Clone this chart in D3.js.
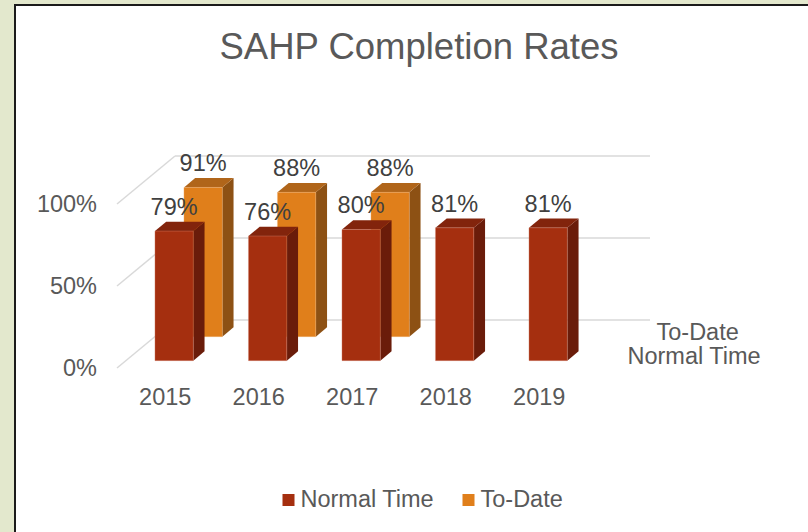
<!DOCTYPE html>
<html>
<head>
<meta charset="utf-8">
<script src="https://cdn.jsdelivr.net/npm/d3@7/dist/d3.min.js"></script>
<style>
  html, body { margin: 0; padding: 0; background: #e3e8cd; }
  svg { display: block; font-family: "Liberation Sans", Arial, sans-serif; }
</style>
</head>
<body>
<div id="chart"></div>
<script>
// chart values
const years = ['2015', '2016', '2017', '2018', '2019'];
const seriesNames = ['Normal Time', 'To-Date'];
const normalTime = [0.79, 0.76, 0.80, 0.81, 0.81];
const toDate = [0.91, 0.88, 0.88, null, null];
const yTicks = [0, 0.5, 1];

const width = 808;
const height = 532;

const colors = {
  'Normal Time': { front: '#a52f0f', top: '#82240c', side: '#6a1c0a', edge: '#d98c78' },
  'To-Date': { front: '#e07f1b', top: '#b0651a', side: '#8d5114', edge: '#f2b070' },
};

// oblique projection: depth goes up and to the right
const DX = 58;
const DY = -48;

const svg = d3.select('#chart').append('svg')
  .attr('width', width)
  .attr('height', height);

// chart area
svg.append('rect')
  .attr('x', 15).attr('y', 5)
  .attr('width', width + 10).attr('height', height + 10)
  .attr('fill', '#fff')
  .attr('stroke', '#1b1b1b')
  .attr('stroke-width', 2);

svg.append('text')
  .attr('x', 419).attr('y', 59)
  .attr('text-anchor', 'middle')
  .style('font-size', '36.5px')
  .style('fill', '#595959')
  .text('SAHP Completion Rates');

const x = d3.scaleBand()
  .domain(years)
  .range([117, 592])
  .paddingOuter(0.04)
  .align(0.2);

const y = d3.scaleLinear()
  .domain([0, 1])
  .range([368, 204]);

const z = d3.scalePoint()
  .domain(seriesNames)
  .range([0, 1])
  .padding(0.5);

const proj = (px, v, pz) => [px + pz * DX, y(v) + pz * DY];
const poly = pts => 'M' + pts.map(p => p.join(',')).join('L') + 'Z';

const [xMin, xMax] = x.range();

// back wall gridlines
svg.append('g').selectAll('line')
  .data(yTicks)
  .enter().append('line')
  .attr('x1', d => proj(xMin, d, 1)[0])
  .attr('y1', d => proj(xMin, d, 1)[1])
  .attr('x2', d => proj(xMax, d, 1)[0])
  .attr('y2', d => proj(xMax, d, 1)[1])
  .attr('stroke', '#d9d9d9')
  .attr('stroke-width', 1.5);

// side wall gridlines
svg.append('g').selectAll('line')
  .data(yTicks)
  .enter().append('line')
  .attr('x1', d => proj(xMin, d, 0)[0])
  .attr('y1', d => proj(xMin, d, 0)[1])
  .attr('x2', d => proj(xMin, d, 1)[0])
  .attr('y2', d => proj(xMin, d, 1)[1])
  .attr('stroke', '#d9d9d9')
  .attr('stroke-width', 1.5);

// y axis labels
svg.append('g').selectAll('text')
  .data(yTicks)
  .enter().append('text')
  .attr('x', xMin - 20)
  .attr('y', d => y(d))
  .attr('dy', '0.35em')
  .attr('text-anchor', 'end')
  .style('font-size', '23.5px')
  .style('fill', '#595959')
  .text(d3.format('.0%'));

// category labels
svg.append('g').selectAll('text')
  .data(years)
  .enter().append('text')
  .attr('x', d => x(d) + x.bandwidth() / 2)
  .attr('y', y(0) + 37)
  .attr('text-anchor', 'middle')
  .style('font-size', '23.5px')
  .style('fill', '#595959')
  .text(d => d);

// series (depth) labels
svg.append('g').selectAll('text')
  .data(seriesNames)
  .enter().append('text')
  .attr('x', d => proj(xMax, 0, z(d))[0] + 21)
  .attr('y', d => proj(xMax, 0, z(d))[1] + 8)
  .style('font-size', '23.5px')
  .style('fill', '#595959')
  .text(d => d);

// bars, back series first
const barW = x.bandwidth() * 0.41;
const barD = 0.194;
const series = [
  { name: 'To-Date', values: toDate },
  { name: 'Normal Time', values: normalTime },
];

const bars = [];
series.forEach(s => {
  s.values.forEach((v, i) => {
    if (v == null) return;
    const x0 = x(years[i]) + (x.bandwidth() - barW) / 2;
    const x1 = x0 + barW;
    const z0 = z(s.name) - barD / 2;
    const z1 = z(s.name) + barD / 2;
    bars.push({ name: s.name, v, x0, x1, z0, z1 });
  });
});

const barG = svg.append('g').selectAll('g')
  .data(bars)
  .enter().append('g');

barG.append('path')
  .attr('d', d => poly([proj(d.x1, 0, d.z0), proj(d.x1, 0, d.z1), proj(d.x1, d.v, d.z1), proj(d.x1, d.v, d.z0)]))
  .attr('fill', d => colors[d.name].side);

barG.append('path')
  .attr('d', d => poly([proj(d.x0, d.v, d.z0), proj(d.x1, d.v, d.z0), proj(d.x1, d.v, d.z1), proj(d.x0, d.v, d.z1)]))
  .attr('fill', d => colors[d.name].top);

barG.append('path')
  .attr('d', d => poly([proj(d.x0, 0, d.z0), proj(d.x1, 0, d.z0), proj(d.x1, d.v, d.z0), proj(d.x0, d.v, d.z0)]))
  .attr('fill', d => colors[d.name].front)
  .attr('stroke', d => colors[d.name].edge)
  .attr('stroke-width', 0.6)
  .attr('stroke-opacity', 0.6);

// data labels on top
svg.append('g').selectAll('text')
  .data(bars)
  .enter().append('text')
  .attr('x', d => proj((d.x0 + d.x1) / 2, d.v, d.z0)[0])
  .attr('y', d => proj((d.x0 + d.x1) / 2, d.v, d.z0)[1] - 16)
  .attr('text-anchor', 'middle')
  .style('font-size', '23.5px')
  .style('fill', '#404040')
  .text(d => d3.format('.0%')(d.v));

// legend
const legend = svg.append('g').selectAll('g')
  .data(seriesNames)
  .enter().append('g')
  .attr('transform', (d, i) => `translate(${[282.5, 462.5][i]},494)`);

legend.append('rect')
  .attr('width', 12)
  .attr('height', 12)
  .attr('fill', d => colors[d].front);

legend.append('text')
  .attr('x', 18)
  .attr('y', 13)
  .style('font-size', '23.5px')
  .style('fill', '#595959')
  .text(d => d);
</script>
</body>
</html>
